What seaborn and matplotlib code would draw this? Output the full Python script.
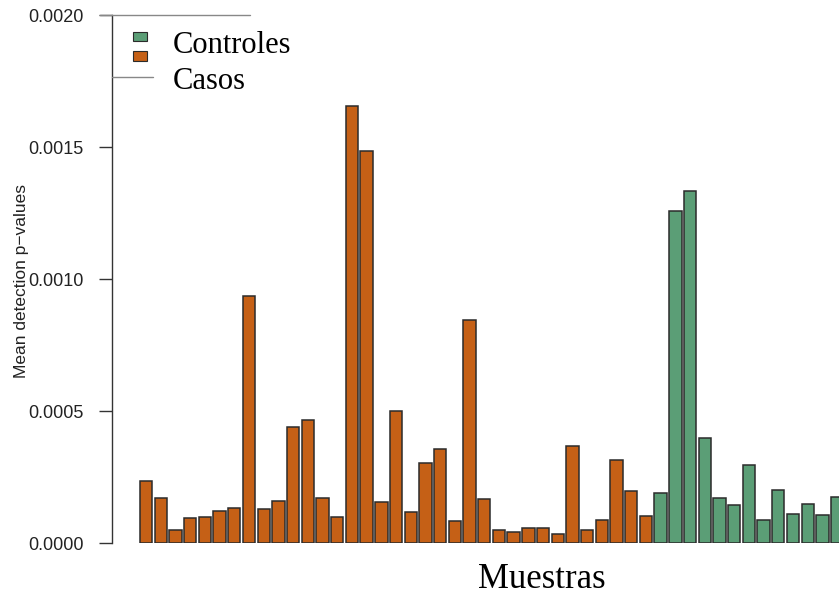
import matplotlib
matplotlib.use("Agg")
import matplotlib.pyplot as plt
from matplotlib.patches import Rectangle
from matplotlib.lines import Line2D
import numpy as np
import pandas as pd
import seaborn as sns

# valores (mean detection p-values por muestra)
casos = [0.000235, 0.000170, 0.000049, 0.000095, 0.000097, 0.000121, 0.000133,
         0.000936, 0.000129, 0.000159, 0.000439, 0.000466, 0.000170, 0.000097,
         0.001655, 0.001485, 0.000155, 0.000500, 0.000117, 0.000303, 0.000356,
         0.000083, 0.000845, 0.000167, 0.000049, 0.000042, 0.000057, 0.000057,
         0.000034, 0.000367, 0.000049, 0.000087, 0.000314, 0.000197, 0.000102]
controles = [0.000189, 0.001258, 0.001333, 0.000398, 0.000170, 0.000144,
             0.000295, 0.000087, 0.000201, 0.000110, 0.000148, 0.000106, 0.000174]
grupos = ["Casos", "Controles"]
colores = {"Casos": "#C56016", "Controles": "#5B9E76"}
yticks = [0.0, 0.0005, 0.0010, 0.0015, 0.0020]

valores = casos + controles
muestras = ["M%d" % (i + 1) for i in range(len(valores))]
grupo = [grupos[0]] * len(casos) + [grupos[1]] * len(controles)
df = pd.DataFrame({"muestra": muestras, "valor": valores, "grupo": grupo})

sns.set_style("white")
plt.rcParams["font.family"] = ["Liberation Sans", "DejaVu Sans"]

W, H = 839, 598
fig = plt.figure(figsize=(W / 100, H / 100), dpi=100)
ax = fig.add_axes([112 / W, 55 / H, (W - 112) / W, 528 / H])

sns.barplot(data=df, x="muestra", y="valor", hue="grupo", order=muestras,
            palette=colores, dodge=False, width=0.84, edgecolor="#2b2b2b",
            linewidth=1.1, saturation=1, legend=False, ax=ax)

ax.set_xlim(-2.32, 47.13)
ax.set_ylim(0, 0.0020)
ax.set_yticks(yticks)
ax.set_yticklabels(["%.4f" % v for v in yticks], fontsize=13, color="#222222")
ax.set_xticks([])
ax.set_xlabel("")
ax.set_ylabel("")
ax.tick_params(axis="y", direction="out", length=9.4, width=1, color="#333333",
               pad=11, left=True)
for s in ["top", "right", "bottom"]:
    ax.spines[s].set_visible(False)
ax.spines["left"].set_color("#333333")
ax.spines["left"].set_linewidth(1)

# etiquetas de ejes
fig.text(22 / W, 1 - 281 / H, "Mean detection p\u2212values", rotation=90,
         ha="center", va="center", fontsize=12.5, color="#222222")
fig.text(542 / W, 1 - 580 / H, "Muestras", ha="center", va="center",
         fontsize=25, family=["Liberation Serif", "DejaVu Serif"], color="black")

# leyenda superpuesta
fig.add_artist(Line2D([100 / W, 250 / W], [1 - 15 / H, 1 - 15 / H],
                      color="#888888", lw=1))
fig.add_artist(Line2D([112 / W, 153 / W], [1 - 77 / H, 1 - 77 / H],
                      color="#888888", lw=1))
fig.add_artist(Rectangle((133 / W, 1 - 41 / H), 14 / W, 9 / H,
                         facecolor=colores["Controles"], edgecolor="#2b2b2b", lw=0.8))
fig.add_artist(Rectangle((133 / W, 1 - 61 / H), 14 / W, 10 / H,
                         facecolor=colores["Casos"], edgecolor="#2b2b2b", lw=0.8))
fig.text(173 / W, 1 - 53 / H, "Controles", ha="left", va="baseline", fontsize=22,
         family=["Liberation Serif", "DejaVu Serif"], color="black")
fig.text(173 / W, 1 - 89 / H, "Casos", ha="left", va="baseline", fontsize=22,
         family=["Liberation Serif", "DejaVu Serif"], color="black")

fig.savefig("out.png", dpi=100)
